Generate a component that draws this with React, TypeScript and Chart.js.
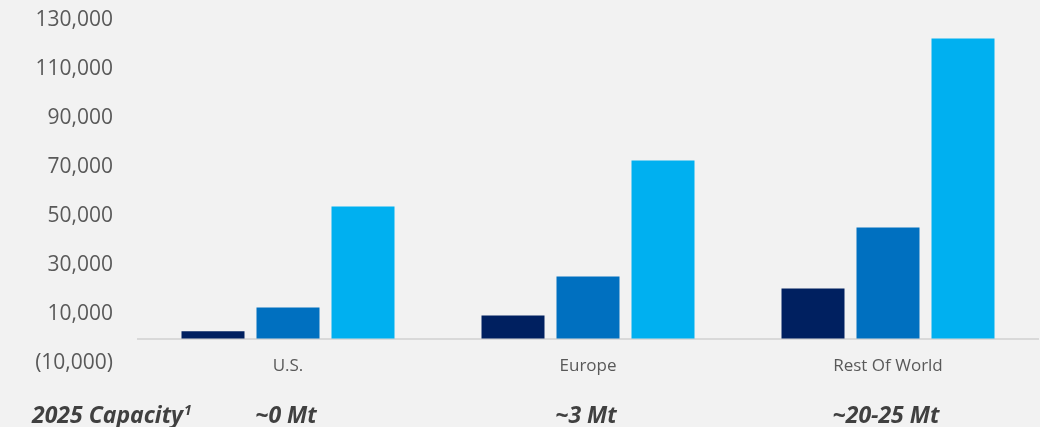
import React, { useEffect, useRef } from "react";
import { Chart, registerables } from "chart.js";

Chart.register(...registerables);

const categories = ["U.S.", "Europe", "Rest Of World"];
const seriesA = [3000, 9400, 20400];
const seriesB = [12700, 25300, 45300];
const seriesC = [53900, 72700, 122500];
const capacityLabels = ["~0 Mt", "~3 Mt", "~20-25 Mt"];
const capacityTitle = "2025 Capacity";
const capacityNote = "1";

const FONT = "'Open Sans', 'DejaVu Sans', sans-serif";

const fmt = (v: number) => {
  const s = Math.abs(v).toLocaleString("en-US");
  return v < 0 ? `(${s})` : s;
};

const capacityPlugin = {
  id: "capacity",
  afterDraw(chart: any) {
    const ctx = chart.ctx;
    const x = chart.scales.x;
    ctx.save();
    ctx.fillStyle = "#404040";
    ctx.font = `italic bold 23px ${FONT}`;
    ctx.textBaseline = "alphabetic";
    const y = 423;
    ctx.textAlign = "left";
    ctx.fillText(capacityTitle, 32, y);
    const w = ctx.measureText(capacityTitle).width;
    ctx.font = `italic bold 14px ${FONT}`;
    ctx.fillText(capacityNote, 32 + w + 1, y - 8);
    ctx.font = `italic bold 23px ${FONT}`;
    ctx.textAlign = "center";
    capacityLabels.forEach((t, i) => {
      ctx.fillText(t, x.getPixelForValue(i) - 2, y);
    });
    ctx.restore();
  },
};

export default function App() {
  const ref = useRef<HTMLCanvasElement>(null);
  useEffect(() => {
    if (!ref.current) return;
    const chart = new Chart(ref.current, {
      type: "bar",
      data: {
        labels: categories,
        datasets: [
          { label: "Series 1", data: seriesA, backgroundColor: "#002060" },
          { label: "Series 2", data: seriesB, backgroundColor: "#0070C0" },
          { label: "Series 3", data: seriesC, backgroundColor: "#00B0F0" },
        ],
      },
      options: {
        animation: false,
        responsive: false,
        devicePixelRatio: 1,
        datasets: { bar: { categoryPercentage: 0.75, barPercentage: 0.84 } },
        layout: { padding: { top: 20, right: 2, bottom: 64, left: 0 } },
        plugins: { legend: { display: false }, tooltip: { enabled: false } },
        scales: {
          x: {
            position: { y: 0 } as any,
            grid: { display: false },
            border: { display: true, color: "#d9d9d9", width: 2 },
            ticks: { color: "#595959", font: { family: FONT, size: 17 }, padding: 9 },
            afterFit: (s: any) => {
              s.paddingLeft = 0;
              s.paddingRight = 0;
            },
          },
          y: {
            min: -10000,
            max: 130000,
            ticks: {
              stepSize: 20000,
              color: "#595959",
              font: { family: FONT, size: 21 },
              padding: 17,
              callback: (v: any) => fmt(Number(v)),
            },
            grid: { display: false },
            border: { display: false },
            afterFit: (s: any) => {
              s.width = 138;
              s.paddingTop = 0;
              s.paddingBottom = 0;
            },
          },
        },
      },
      plugins: [capacityPlugin],
    });
    return () => chart.destroy();
  }, []);
  return (
    <div
      style={{
        position: "absolute",
        left: 0,
        top: 0,
        width: 1040,
        height: 427,
        background: "#f2f2f2",
      }}
    >
      <canvas ref={ref} width={1040} height={427} style={{ display: "block" }} />
    </div>
  );
}
